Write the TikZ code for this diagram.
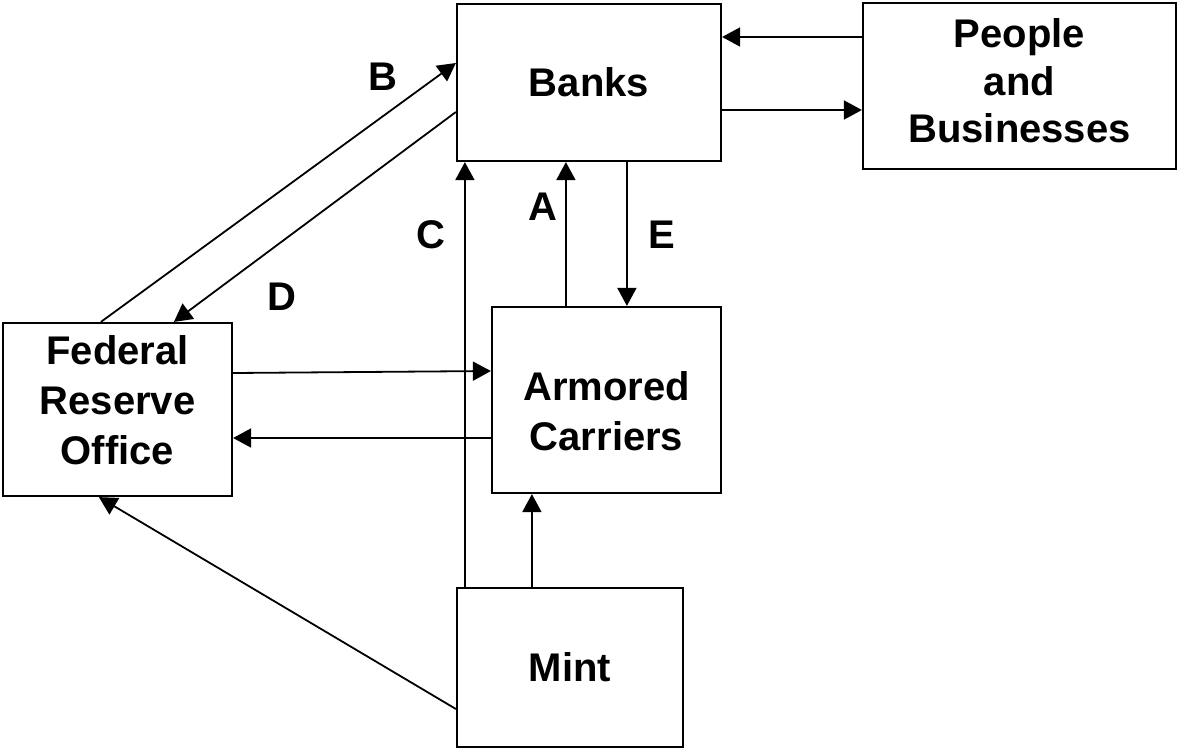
\documentclass[tikz,border=0pt]{standalone}
\usepackage{fontspec}
\setmainfont{Liberation Sans}
\usepackage{tikz}
\usetikzlibrary{arrows.meta, positioning}

\begin{document}
\begin{tikzpicture}[x=1pt, y=-1pt, >={Triangle[length=18pt, width=19pt]},
    flowbox/.style={draw, line width=2.2pt, align=center, inner sep=0pt,
      font=\bfseries\fontsize{40}{50}\selectfont},
    tag/.style={inner sep=0pt, font=\bfseries\fontsize{40}{48}\selectfont},
    flow/.style={->, line width=1.8pt}]
  \useasboundingbox (0,0) rectangle (1177,750);
  % Boxes
  \node[flowbox, minimum width=264pt, minimum height=157pt] (banks) at (589,82.5) {Banks};
  \node[flowbox, minimum width=313pt, minimum height=166pt, text depth=10pt,
    font=\bfseries\fontsize{40}{47.5}\selectfont] (people) at (1019.5,86) {People\\and\\Businesses};
  \node[flowbox, minimum width=229pt, minimum height=173pt, text depth=19pt] (fed) at (117.5,409.5) {Federal\\Reserve\\Office};
  \node[flowbox, minimum width=229pt, minimum height=186pt, text height=101pt] (armored) at (606.5,400) {Armored\\Carriers};
  \node[flowbox, minimum width=226pt, minimum height=159pt] (mint) at (570,667.5) {Mint};
  % Banks and the public
  \draw[flow] ([yshift=49pt]people.west) -- ([yshift=45.5pt]banks.east);
  \draw[flow] ([yshift=-27.5pt]banks.east) -- ([yshift=-24pt]people.west);
  % Federal Reserve and banks
  \draw[flow] ([xshift=99pt]fed.north west) -- ([yshift=19.5pt]banks.west);
  \draw[flow] ([yshift=-29.5pt]banks.west) -- ([xshift=172pt]fed.north west);
  % Vertical links
  \draw[flow] ([xshift=9pt]mint.north west) -- ([xshift=9pt]banks.south west);
  \draw[flow] ([xshift=75pt]armored.north west) -- ([xshift=110pt]banks.south west);
  \draw[flow] ([xshift=171pt]banks.south west) -- ([xshift=136pt]armored.north west);
  \draw[flow] ([xshift=76pt]mint.north west) -- ([xshift=41pt]armored.south west);
  % Federal Reserve and carriers
  \draw[flow] ([yshift=36.5pt]fed.east) -- ([yshift=29pt]armored.west);
  \draw[flow] ([yshift=-38pt]armored.west) -- ([yshift=-28.5pt]fed.east);
  \draw[flow] ([yshift=-41.5pt]mint.west) -- ([xshift=97pt]fed.south west);
  % Letters
  \node[tag] (labB) at (383,77) {B};
  \node[tag] (labD) at (282,297) {D};
  \node[tag] (labC) at (431,235) {C};
  \node[tag] (labA) at (543,207) {A};
  \node[tag] (labE) at (662,235) {E};
\end{tikzpicture}
\end{document}
